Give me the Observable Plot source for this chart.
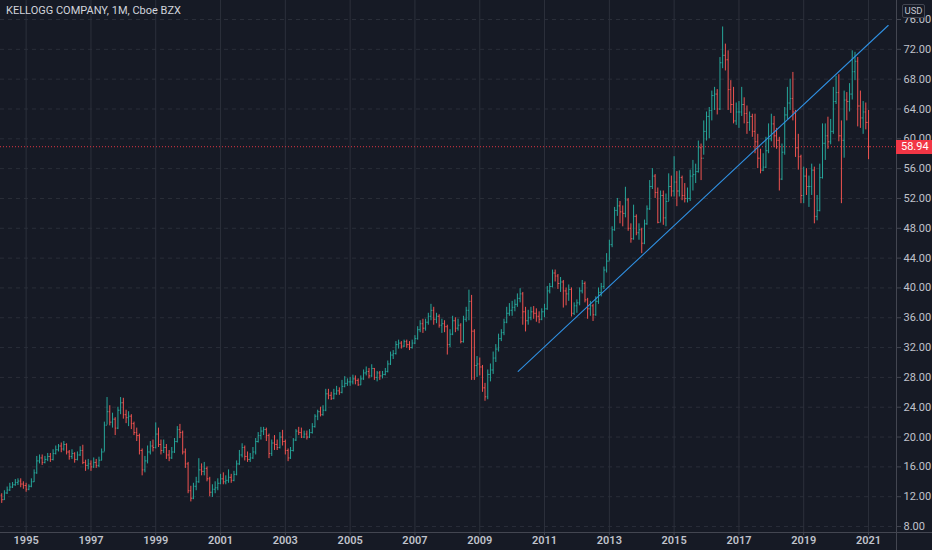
<!DOCTYPE html>
<html>
<head>
<meta charset="utf-8">
<script src="https://cdn.jsdelivr.net/npm/d3@7"></script>
<script src="https://cdn.jsdelivr.net/npm/@observablehq/plot@0.6"></script>
<style>
html, body { margin: 0; padding: 0; background: #161a25; }
#wrap { position: relative; width: 932px; height: 550px; overflow: hidden; font-family: Roboto, "Noto Sans", sans-serif; }
#title { position: absolute; left: 6px; top: 4px; color: #d1d4dc; font-size: 11px; white-space: nowrap; }
#usd { position: absolute; left: 902px; top: 4px; width: 21px; height: 12px; border: 1px solid #434651; border-radius: 2px; background: #161a25; color: #c0c3cc; font-size: 9.5px; line-height: 12px; text-align: center; }
#vsep { position: absolute; left: 896px; top: 0; width: 1px; height: 550px; background: #434651; }
#hsep { position: absolute; left: 0; top: 532px; width: 932px; height: 1px; background: #434651; }
#price { position: absolute; left: 896px; width: 36px; height: 14px; background: #f23645; color: #ffffff; font-size: 11px; line-height: 14px; padding-left: 5px; box-sizing: border-box; }
</style>
</head>
<body>
<div id="wrap">
  <div id="chart"></div>
  <div id="vsep"></div>
  <div id="hsep"></div>
  <div id="title"></div>
  <div id="usd">USD</div>
  <div id="price"></div>
</div>
<script>
// Monthly bars from Apr 1994 to Jan 2021 (one value per month)
const opens = [
  12.2, 11.6, 12.5, 12.9, 13.3, 13.6, 13.9, 14.1, 13.7,
  13.5, 13.0, 13.4, 14.0, 15.2, 16.8, 17.2, 16.6, 17.0, 17.4, 17.0, 17.8,
  18.3, 18.8, 18.4, 19.0, 18.0, 17.4, 17.8, 17.0, 17.6, 18.2, 16.6, 16.2,
  16.4, 16.0, 16.6, 16.2, 16.9, 18.0, 21.6, 23.4, 22.0, 22.4, 21.2, 23.6,
  24.6, 23.0, 22.6, 22.8, 21.8, 20.6, 20.2, 18.2, 15.6, 16.8, 18.0, 18.8,
  18.6, 20.4, 19.0, 18.2, 18.6, 17.6, 17.2, 18.0, 19.4, 21.0, 20.6, 18.0,
  16.4, 12.8, 11.8, 13.4, 14.0, 15.6, 15.4, 15.8, 14.4, 12.6, 13.0, 13.2,
  13.8, 14.4, 14.0, 14.2, 14.6, 14.2, 15.0, 16.4, 17.6, 18.6, 17.4, 17.0,
  17.2, 18.0, 19.4, 20.2, 20.8, 21.0, 20.2, 17.8, 19.2, 19.0, 18.6, 20.0,
  19.4, 18.2, 17.2, 18.2, 19.6, 20.8, 20.6, 20.0, 20.4, 20.0, 20.6, 21.4,
  22.8, 23.4, 23.0, 23.6, 25.8, 25.6, 25.2, 25.8, 26.2, 26.0, 26.8, 27.2,
  27.4, 27.4, 27.8, 27.6, 27.0, 27.8, 28.6, 28.8, 28.2, 29.2, 28.0, 28.6,
  28.2, 28.4, 28.8, 29.8, 31.0, 31.2, 32.4, 32.6, 32.2, 32.8, 32.4, 32.0,
  32.6, 33.2, 34.4, 35.2, 34.6, 35.4, 36.2, 37.0, 35.8, 36.2, 35.0, 35.2,
  34.8, 32.4, 33.8, 35.6, 34.6, 35.0, 32.8, 35.8, 37.0, 38.2, 34.2, 29.6,
  29.8, 29.4, 26.6, 25.4, 28.4, 29.0, 30.6, 31.8, 33.2, 34.0, 35.4, 36.6,
  37.0, 37.4, 37.8, 38.6, 39.2, 36.8, 35.6, 36.0, 36.8, 36.6, 36.2, 35.8,
  36.8, 37.2, 39.6, 40.2, 42.0, 41.6, 40.6, 40.8, 39.6, 39.2, 39.8, 36.6,
  37.6, 38.0, 39.6, 40.6, 38.4, 37.2, 37.6, 36.4, 38.2, 39.4, 40.2, 42.4,
  43.6, 45.8, 47.8, 50.4, 51.0, 50.2, 50.0, 51.8, 48.0, 46.6, 49.6, 47.4,
  47.8, 46.0, 48.6, 50.6, 53.6, 55.0, 52.8, 48.8, 52.4, 49.4, 51.6, 53.6,
  53.0, 54.2, 53.0, 54.8, 52.4, 52.0, 52.0, 55.0, 55.2, 55.6, 58.8, 57.4,
  61.0, 63.0, 63.8, 65.8, 66.0, 64.0, 70.2, 71.2, 70.6, 66.6, 64.6, 62.4,
  63.6, 63.6, 64.6, 63.4, 62.2, 63.0, 61.0, 59.6, 57.4, 55.8, 56.2, 58.4,
  60.0, 62.0, 60.4, 59.8, 54.6, 58.2, 63.2, 64.8, 65.4, 63.6, 58.8, 57.6,
  52.4, 55.0, 53.6, 53.6, 55.8, 49.6, 50.4, 54.8, 59.4, 60.4, 59.6, 61.0,
  65.0, 66.2, 60.4, 59.8, 65.2, 65.0, 66.0, 69.0, 70.4, 64.4, 62.8, 63.6,
  62.2
];
const highs = [
  12.4, 12.8, 13.3, 13.8, 13.9, 14.3, 14.4, 14.4, 14.0,
  13.8, 13.6, 14.4, 15.6, 17.4, 17.6, 17.6, 17.4, 17.8, 17.8, 18.3, 18.8,
  19.0, 19.2, 19.4, 19.1, 18.2, 18.3, 17.9, 18.0, 18.7, 18.9, 16.9, 17.0,
  16.8, 17.2, 17.0, 17.3, 18.4, 22.0, 25.3, 24.2, 23.2, 22.6, 24.0, 25.3,
  25.2, 23.6, 23.4, 23.0, 22.0, 21.2, 20.4, 18.4, 17.4, 18.8, 19.4, 19.6,
  21.9, 21.2, 19.6, 19.6, 19.0, 18.2, 18.6, 19.8, 21.4, 21.7, 20.8, 18.4,
  16.6, 13.4, 13.8, 14.6, 17.1, 16.4, 16.6, 16.0, 14.6, 13.6, 14.0, 14.4,
  15.0, 15.2, 14.8, 15.6, 15.0, 15.4, 16.8, 18.2, 19.1, 18.8, 18.0, 17.8,
  18.6, 19.8, 20.6, 21.3, 21.3, 21.2, 20.4, 19.6, 20.2, 19.6, 20.6, 20.9,
  19.6, 18.4, 18.6, 19.8, 21.0, 21.3, 21.2, 20.8, 20.8, 21.0, 21.8, 23.0,
  23.6, 24.0, 24.2, 26.4, 26.4, 26.0, 26.4, 26.8, 26.6, 27.6, 28.1, 27.8,
  28.0, 28.3, 28.2, 27.8, 28.2, 29.0, 29.4, 29.2, 29.7, 29.2, 28.8, 28.8,
  28.8, 29.2, 30.2, 31.4, 31.6, 32.8, 33.0, 32.8, 33.0, 33.0, 32.8, 33.0,
  33.6, 34.8, 35.6, 35.8, 35.8, 36.6, 37.8, 37.4, 36.6, 36.4, 35.8, 35.6,
  35.0, 34.4, 36.2, 36.0, 35.8, 35.2, 36.2, 37.4, 39.7, 39.0, 34.4, 30.8,
  30.6, 29.6, 27.2, 29.0, 29.8, 31.4, 32.4, 33.8, 34.4, 35.8, 37.4, 37.9,
  38.2, 38.4, 39.2, 39.9, 39.4, 37.4, 37.0, 37.4, 37.5, 37.2, 36.8, 37.2,
  37.8, 40.2, 40.6, 42.4, 42.4, 41.8, 41.4, 41.0, 40.0, 40.4, 40.0, 38.0,
  38.4, 40.0, 41.0, 40.8, 38.6, 38.2, 37.8, 38.8, 40.0, 40.6, 42.8, 44.6,
  46.4, 48.2, 50.8, 52.0, 51.6, 51.0, 53.5, 52.0, 48.6, 51.1, 49.8, 48.6,
  48.0, 49.1, 51.0, 54.4, 56.0, 55.2, 53.4, 53.0, 53.0, 52.6, 55.3, 55.0,
  57.6, 55.6, 55.7, 55.0, 54.0, 53.4, 55.8, 57.1, 56.6, 59.7, 59.3, 62.4,
  63.6, 64.2, 66.4, 66.9, 66.6, 70.9, 75.0, 72.7, 71.8, 67.8, 66.9, 64.8,
  65.0, 66.9, 65.5, 64.4, 63.6, 63.3, 63.3, 60.6, 58.6, 58.0, 60.2, 62.0,
  63.3, 63.0, 61.4, 60.2, 59.3, 64.2, 66.9, 68.0, 68.9, 63.8, 60.6, 57.8,
  56.2, 56.0, 55.0, 56.6, 56.2, 52.4, 56.6, 62.0, 62.0, 62.9, 62.6, 66.9,
  68.4, 68.6, 62.4, 66.4, 66.2, 67.4, 71.8, 71.6, 70.9, 66.4, 65.0, 64.8,
  63.8
];
const lows = [
  11.1, 11.5, 12.3, 12.7, 13.1, 13.4, 13.5, 13.2, 13.0,
  12.6, 12.8, 13.2, 13.9, 15.0, 16.4, 16.2, 16.4, 16.7, 16.6, 16.8, 17.6,
  18.0, 17.9, 18.1, 17.6, 16.9, 17.0, 16.5, 16.8, 17.4, 16.3, 15.4, 15.6,
  15.4, 15.8, 15.8, 15.9, 16.8, 18.0, 21.6, 21.5, 21.2, 20.2, 21.0, 23.0,
  22.4, 21.8, 21.4, 21.0, 20.2, 19.4, 17.6, 14.8, 15.2, 16.4, 17.6, 18.0,
  18.4, 18.6, 17.6, 17.8, 17.0, 16.7, 17.0, 17.8, 19.2, 19.8, 17.6, 15.8,
  12.4, 11.3, 11.6, 12.8, 13.8, 14.8, 14.8, 14.0, 12.0, 11.9, 12.4, 12.8,
  13.6, 13.6, 13.6, 13.8, 13.8, 14.0, 14.8, 16.2, 17.2, 16.8, 16.6, 16.6,
  17.0, 17.6, 19.2, 19.6, 20.2, 19.4, 17.1, 17.4, 18.2, 18.2, 18.4, 18.8,
  17.6, 16.7, 17.0, 18.0, 19.4, 20.2, 19.8, 19.8, 19.6, 19.8, 20.4, 21.2,
  22.2, 22.7, 22.8, 23.4, 25.0, 24.9, 25.0, 25.6, 25.6, 25.8, 26.6, 26.8,
  26.8, 27.0, 27.0, 26.8, 26.9, 27.6, 28.2, 27.8, 28.0, 27.6, 27.4, 27.6,
  27.8, 28.2, 28.6, 29.6, 30.4, 31.0, 31.8, 31.8, 32.0, 31.9, 31.6, 31.8,
  32.4, 33.0, 34.0, 33.9, 34.2, 35.0, 35.6, 35.0, 35.2, 34.6, 33.9, 34.0,
  31.0, 32.0, 33.6, 34.0, 34.2, 32.5, 32.6, 35.4, 35.6, 27.6, 27.6, 28.0,
  28.2, 26.0, 24.8, 25.0, 27.4, 28.4, 30.0, 31.4, 32.8, 33.6, 35.2, 36.2,
  36.2, 36.8, 37.4, 38.0, 35.0, 34.1, 35.0, 35.6, 35.8, 35.4, 35.2, 35.6,
  36.0, 37.0, 39.2, 40.0, 40.8, 39.8, 39.4, 37.3, 37.6, 38.2, 36.1, 36.3,
  36.6, 37.6, 39.2, 38.0, 35.8, 36.2, 35.5, 36.2, 37.8, 38.8, 39.8, 42.0,
  43.6, 45.4, 47.6, 49.6, 48.6, 48.2, 49.4, 47.6, 46.0, 46.4, 47.0, 46.4,
  44.6, 45.8, 48.4, 50.4, 53.2, 52.0, 48.6, 48.8, 48.4, 48.2, 51.6, 52.2,
  52.2, 50.9, 52.2, 51.7, 51.4, 51.4, 51.6, 53.0, 54.0, 55.4, 54.4, 57.8,
  59.7, 60.0, 62.4, 63.8, 63.2, 63.8, 69.4, 69.1, 63.8, 63.4, 62.0, 61.8,
  61.4, 63.0, 62.0, 60.6, 61.0, 60.2, 58.0, 56.0, 55.3, 55.6, 56.0, 58.0,
  59.6, 58.8, 58.6, 53.0, 54.4, 57.8, 62.6, 63.8, 62.4, 57.5, 55.8, 51.3,
  51.3, 52.4, 50.8, 52.4, 48.6, 49.0, 50.2, 54.6, 57.1, 58.6, 59.2, 60.6,
  64.6, 59.6, 51.3, 57.4, 62.4, 63.6, 65.2, 67.8, 61.6, 61.4, 60.6, 61.2,
  57.2
];
const closes = [
  11.6, 12.5, 12.9, 13.3, 13.6, 13.9, 14.1, 13.7, 13.5,
  13.0, 13.4, 14.0, 15.2, 16.8, 17.2, 16.6, 17.0, 17.4, 17.0, 17.8, 18.3,
  18.8, 18.4, 19.0, 18.0, 17.4, 17.8, 17.0, 17.6, 18.2, 16.6, 16.2, 16.4,
  16.0, 16.6, 16.2, 16.9, 18.0, 21.6, 23.4, 22.0, 22.4, 21.2, 23.6, 24.6,
  23.0, 22.6, 22.8, 21.8, 20.6, 20.2, 18.2, 15.6, 16.8, 18.0, 18.8, 18.6,
  20.4, 19.0, 18.2, 18.6, 17.6, 17.2, 18.0, 19.4, 21.0, 20.6, 18.0, 16.4,
  12.8, 11.8, 13.4, 14.0, 15.6, 15.4, 15.8, 14.4, 12.6, 13.0, 13.2, 13.8,
  14.4, 14.0, 14.2, 14.6, 14.2, 15.0, 16.4, 17.6, 18.6, 17.4, 17.0, 17.2,
  18.0, 19.4, 20.2, 20.8, 21.0, 20.2, 17.8, 19.2, 19.0, 18.6, 20.0, 19.4,
  18.2, 17.2, 18.2, 19.6, 20.8, 20.6, 20.0, 20.4, 20.0, 20.6, 21.4, 22.8,
  23.4, 23.0, 23.6, 25.8, 25.6, 25.2, 25.8, 26.2, 26.0, 26.8, 27.2, 27.4,
  27.4, 27.8, 27.6, 27.0, 27.8, 28.6, 28.8, 28.2, 29.2, 28.0, 28.6, 28.2,
  28.4, 28.8, 29.8, 31.0, 31.2, 32.4, 32.6, 32.2, 32.8, 32.4, 32.0, 32.6,
  33.2, 34.4, 35.2, 34.6, 35.4, 36.2, 37.0, 35.8, 36.2, 35.0, 35.2, 34.8,
  32.4, 33.8, 35.6, 34.6, 35.0, 32.8, 35.8, 37.0, 38.2, 34.2, 29.6, 29.8,
  29.4, 26.6, 25.4, 28.4, 29.0, 30.6, 31.8, 33.2, 34.0, 35.4, 36.6, 37.0,
  37.4, 37.8, 38.6, 39.2, 36.8, 35.6, 36.0, 36.8, 36.6, 36.2, 35.8, 36.8,
  37.2, 39.6, 40.2, 42.0, 41.6, 40.6, 40.8, 39.6, 39.2, 39.8, 36.6, 37.6,
  38.0, 39.6, 40.6, 38.4, 37.2, 37.6, 36.4, 38.2, 39.4, 40.2, 42.4, 43.6,
  45.8, 47.8, 50.4, 51.0, 50.2, 50.0, 51.8, 48.0, 46.6, 49.6, 47.4, 47.8,
  46.0, 48.6, 50.6, 53.6, 55.0, 52.8, 48.8, 52.4, 49.4, 51.6, 53.6, 53.0,
  54.2, 53.0, 54.8, 52.4, 52.0, 52.0, 55.0, 55.2, 55.6, 58.8, 57.4, 61.0,
  63.0, 63.8, 65.8, 66.0, 64.0, 70.2, 71.2, 70.6, 66.6, 64.6, 62.4, 63.6,
  63.6, 64.6, 63.4, 62.2, 63.0, 61.0, 59.6, 57.4, 55.8, 56.2, 58.4, 60.0,
  62.0, 60.4, 59.8, 54.6, 58.2, 63.2, 64.8, 65.4, 63.6, 58.8, 57.6, 52.4,
  55.0, 53.6, 53.6, 55.8, 49.6, 50.4, 54.8, 59.4, 60.4, 59.6, 61.0, 65.0,
  66.2, 60.4, 59.8, 65.2, 65.0, 66.0, 69.0, 70.4, 64.4, 62.8, 63.6, 62.2,
  58.94
];
const priceTicks = [8, 12, 16, 20, 24, 28, 32, 36, 40, 44, 48, 52, 56, 60, 64, 68, 72, 76];
const yearTicks = [1995, 1997, 1999, 2001, 2003, 2005, 2007, 2009, 2011, 2013, 2015, 2017, 2019, 2021];
const trendDates = ["2010-03-10", "2021-08-10"];
const trendValues = [28.8, 75.2];
const titleText = "KELLOGG COMPANY, 1M, Cboe BZX";
const lastPrice = 58.94;

const months = d3.utcMonth.range(new Date(Date.UTC(1994, 3, 1)), new Date(Date.UTC(2021, 1, 1)));
const bars = months.map((date, i) => ({date, open: opens[i], high: highs[i], low: lows[i], close: closes[i]}));
const trend = trendDates.map((d, i) => ({date: new Date(d), value: trendValues[i]}));
const yearDates = yearTicks.map(y => new Date(Date.UTC(y, 0, 1)));

const UP = "#26a69a", DOWN = "#ef5350";
const barColor = d => d.close >= d.open ? UP : DOWN;

const chart = Plot.plot({
  width: 932,
  height: 550,
  marginLeft: 0,
  marginRight: 36,
  marginTop: 0,
  marginBottom: 18,
  style: {background: "#161a25", color: "#c0c3cc", fontFamily: "Roboto, 'Noto Sans', sans-serif", fontSize: "11px", overflow: "visible"},
  x: {type: "utc", domain: [new Date(Date.UTC(1994, 2, 18)), new Date(Date.UTC(2021, 10, 12))]},
  y: {domain: [7.2, 78.55]},
  marks: [
    Plot.gridY(priceTicks, {stroke: "#2a2e39", strokeOpacity: 1, strokeDasharray: "4,4"}),
    Plot.gridX(yearDates, {stroke: "#2c303b", strokeOpacity: 1}),
    Plot.ruleY([lastPrice], {stroke: "#f23645", strokeOpacity: 0.9, strokeDasharray: "1,2"}),
    Plot.ruleX(bars, {x: "date", y1: "low", y2: "high", stroke: barColor, strokeWidth: 1}),
    Plot.link(bars, {x1: d => d3.utcDay.offset(d.date, -12), x2: "date", y1: "open", y2: "open", stroke: barColor, strokeWidth: 1}),
    Plot.link(bars, {x1: "date", x2: d => d3.utcDay.offset(d.date, 12), y1: "close", y2: "close", stroke: barColor, strokeWidth: 1}),
    Plot.line(trend, {x: "date", y: "value", stroke: "#2f8fe0", strokeWidth: 1.1}),
    Plot.axisY(priceTicks, {anchor: "right", tickSize: 4, tickPadding: 3, stroke: "#434651", fill: "#c0c3cc", tickFormat: d => d.toFixed(2), label: null}),
    Plot.axisX(yearDates, {anchor: "bottom", tickSize: 3, tickPadding: 1, stroke: "#434651", fill: "#c0c3cc", fontWeight: "600", tickFormat: d3.utcFormat("%Y"), label: null})
  ]
});
document.getElementById("chart").appendChild(chart);
document.getElementById("title").textContent = titleText;
const py = chart.scale("y").apply(lastPrice);
const priceBox = document.getElementById("price");
priceBox.textContent = lastPrice.toFixed(2);
priceBox.style.top = (py - 6) + "px";
</script>
</body>
</html>
